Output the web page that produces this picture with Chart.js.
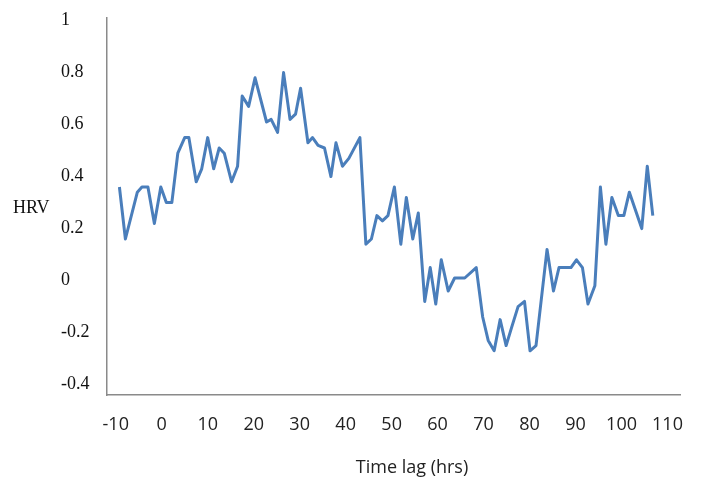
<!DOCTYPE html>
<html>
<head>
<meta charset="utf-8">
<script src="https://cdn.jsdelivr.net/npm/chart.js@4/dist/chart.umd.min.js"></script>
<style>
  html, body { margin: 0; padding: 0; background: #fff; }
  #hrvChart { display: block; }
</style>
</head>
<body>
<canvas id="hrvChart" width="702" height="483"></canvas>
<script>
// values (time lag in hrs, HRV)
var lagHrs = [-9.2, -7.9, -5.3, -4.3, -3.0, -1.6, -0.2, 1.0, 2.2, 3.5,
    5.0, 5.9, 7.5, 8.7, 10.0, 11.3, 12.5, 13.6, 15.2, 16.5,
    17.5, 18.9, 20.3, 22.8, 23.8, 25.2, 26.5, 27.9, 29.1, 30.2,
    31.8, 32.8, 34.0, 35.4, 36.8, 37.9, 39.3, 40.7, 43.1, 44.4,
    45.6, 46.8, 48.0, 49.2, 50.6, 52.0, 53.2, 54.6, 55.8, 57.2,
    58.4, 59.6, 60.8, 62.3, 63.7, 65.9, 68.4, 69.8, 71.0, 72.3,
    73.6, 74.9, 76.1, 77.5, 78.9, 80.1, 81.4, 83.8, 85.2, 86.4,
    89.0, 90.2, 91.5, 92.7, 94.2, 95.4, 96.6, 97.9, 99.3, 100.5,
    101.7, 104.4, 105.6, 106.8];
var hrv = [0.36, 0.16, 0.34, 0.36, 0.36, 0.22, 0.36, 0.30, 0.30, 0.49,
    0.55, 0.55, 0.38, 0.43, 0.55, 0.43, 0.51, 0.49, 0.38, 0.44,
    0.71, 0.67, 0.78, 0.61, 0.62, 0.57, 0.80, 0.62, 0.64, 0.74,
    0.53, 0.55, 0.52, 0.51, 0.40, 0.53, 0.44, 0.47, 0.55, 0.14,
    0.16, 0.25, 0.23, 0.25, 0.36, 0.14, 0.32, 0.16, 0.26, -0.08,
    0.05, -0.09, 0.08, -0.04, 0.01, 0.01, 0.05, -0.14, -0.23, -0.27,
    -0.15, -0.25, -0.18, -0.10, -0.08, -0.27, -0.25, 0.12, -0.04, 0.05,
    0.05, 0.08, 0.05, -0.09, -0.02, 0.36, 0.14, 0.32, 0.25, 0.25,
    0.34, 0.20, 0.44, 0.25];

var xTicks = [-10, 0, 10, 20, 30, 40, 50, 60, 70, 80, 90, 100, 110];
var yTicks = [-0.4, -0.2, 0, 0.2, 0.4, 0.6, 0.8, 1];

var points = lagHrs.map(function (x, i) { return { x: x, y: hrv[i] }; });

// horizontal axis names: "HRV" left of the y axis, "Time lag (hrs)" under the x axis
var axisNames = {
    id: 'axisNames',
    afterDraw: function (chart) {
        var ctx = chart.ctx;
        ctx.save();
        ctx.textBaseline = 'middle';
        ctx.fillStyle = '#111';
        ctx.font = '18px "Liberation Serif"';
        ctx.textAlign = 'left';
        ctx.fillText('HRV', 13, 208);
        ctx.fillStyle = '#222';
        ctx.font = '18px "Open Sans"';
        ctx.textAlign = 'center';
        ctx.fillText('Time lag (hrs)', 412, 468);
        ctx.restore();
    }
};

new Chart(document.getElementById('hrvChart'), {
    type: 'line',
    data: {
        datasets: [{
            label: 'HRV',
            data: points,
            borderColor: '#4a7ebb',
            borderWidth: 3,
            borderJoinStyle: 'round',
            pointRadius: 0,
            tension: 0,
            fill: false
        }]
    },
    options: {
        responsive: false,
        animation: false,
        devicePixelRatio: 1,
        layout: { padding: { left: 61, top: 18, right: 2, bottom: 0 } },
        plugins: { legend: { display: false }, tooltip: { enabled: false } },
        scales: {
            x: {
                type: 'linear',
                min: -11.9,
                max: 112.9,
                afterBuildTicks: function (axis) {
                    axis.ticks = xTicks.map(function (v) { return { value: v }; });
                },
                afterFit: function (scale) { scale.height = 88; },
                grid: { display: false, drawTicks: false },
                border: { display: true, color: '#8a8a8a', width: 1.5 },
                ticks: {
                    padding: 19,
                    color: '#222',
                    maxRotation: 0,
                    autoSkip: false,
                    font: { family: '"Open Sans"', size: 18 },
                    callback: function (v) { return String(v); }
                }
            },
            y: {
                min: -0.44,
                max: 1.01,
                afterBuildTicks: function (axis) {
                    axis.ticks = yTicks.map(function (v) { return { value: v }; });
                },
                afterFit: function (scale) { scale.width = 46; },
                grid: { display: false, drawTicks: false },
                border: { display: true, color: '#8a8a8a', width: 1.5 },
                ticks: {
                    crossAlign: 'far',
                    color: '#111',
                    autoSkip: false,
                    font: { family: '"Liberation Serif"', size: 18 },
                    callback: function (v) { return String(v); }
                }
            }
        }
    },
    plugins: [axisNames]
});
</script>
</body>
</html>
